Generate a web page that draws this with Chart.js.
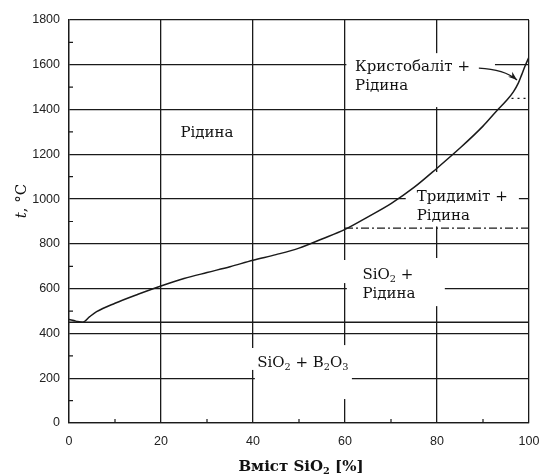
<!DOCTYPE html>
<html><head><meta charset="utf-8">
<script src="https://cdn.jsdelivr.net/npm/chart.js@4.4.1/dist/chart.umd.min.js"></script>
<style>html,body{margin:0;padding:0;background:#fff;}</style>
</head><body>
<canvas id="c" width="539" height="476"></canvas>
<script>
// ---- data ----
const xTicks = [0, 20, 40, 60, 80, 100];
const yTicks = [0, 200, 400, 600, 800, 1000, 1200, 1400, 1600, 1800];
const xMinor = [10, 30, 50, 70, 90];
const yMinor = [100, 300, 500, 700, 900, 1100, 1300, 1500, 1700];
const liquidusX = [0, 1.5, 3, 4.5, 6, 10, 15, 20, 25, 30, 35, 40, 45, 50, 55, 60, 65, 70, 75, 80, 85, 90, 93, 95.1, 96.6, 97.7, 98.4, 99.1, 100];
const liquidusT = [462, 455, 450, 475, 497, 535, 575, 612, 645, 672, 698, 727, 752, 781, 822, 865, 921, 980, 1052, 1138, 1228, 1326, 1395, 1440, 1479, 1519, 1555, 1592, 1635];
const eutecticX = [0, 100];
const eutecticT = [450, 450];
const tridymiteX = [60, 100];
const tridymiteT = [870, 870];
const cristobaliteX = [96.2, 100];
const cristobaliteT = [1450, 1450];
const regionText = [
  ['Рідина'],
  ['Кристобаліт +', 'Рідина'],
  ['Тридиміт +', 'Рідина'],
  ['SiO_2 +', 'Рідина'],
  ['SiO_2 + B_2O_3']
];
const xTitle = 'Вміст SiO_2 [%]';
const yTitleVar = 't';
const yTitleUnit = ', °C';

// ---- layout / style (not data) ----
const INK = '#1a1a1a';
const TEXT_INK = '#111';
const labelPos = [
  {x: 30, t: 1295, align: 'center'},
  {x: 62.2, t: 1589, align: 'left'},
  {x: 75.6, t: 1010, align: 'left'},
  {x: 63.8, t: 661, align: 'left'},
  {x: 40.9, t: 268, align: 'left'}
];
const masks = [
  {x1: 60.3, x2: 92.6, t1: 1652, t2: 1411},
  {x1: 73.2, x2: 97.8, t1: 1121, t2: 878},
  {x1: 60.4, x2: 81.7, t1: 737, t2: 522},
  {x1: 59.6, x2: 60.4, t1: 728, t2: 625},
  {x1: 40.4, x2: 61.5, t1: 344, t2: 186},
  {x1: 39.7, x2: 40.4, t1: 335, t2: 237},
  {x1: 59.6, x2: 60.4, t1: 348, t2: 107}
];
const SERIF = '"DejaVu Serif", serif';
const LABEL_SIZE = 15;
const TICK_FONT = {family: '"Liberation Sans", Arial, sans-serif', size: 12.5};

function toPts(xs, ys) { return xs.map((x, i) => ({x: x, y: ys[i]})); }

function parseRich(str) {
  const segs = [];
  const re = /_(\d)/g;
  let last = 0, m;
  while ((m = re.exec(str)) !== null) {
    if (m.index > last) segs.push({t: str.slice(last, m.index), sub: false});
    segs.push({t: m[1], sub: true});
    last = re.lastIndex;
  }
  if (last < str.length) segs.push({t: str.slice(last), sub: false});
  return segs;
}
function richWidth(ctx, segs, size, weight) {
  let w = 0;
  segs.forEach(s => {
    const fs = s.sub ? size * 0.65 : size;
    ctx.font = 'normal ' + (weight || 'normal') + ' ' + fs + 'px ' + SERIF;
    w += ctx.measureText(s.t).width;
  });
  return w;
}
function drawRich(ctx, str, x, y, align, size, weight) {
  const segs = parseRich(str);
  const w = richWidth(ctx, segs, size, weight);
  let cx = align === 'center' ? x - w / 2 : x;
  ctx.textBaseline = 'middle';
  ctx.textAlign = 'left';
  segs.forEach(s => {
    const fs = s.sub ? size * 0.65 : size;
    ctx.font = 'normal ' + (weight || 'normal') + ' ' + fs + 'px ' + SERIF;
    ctx.fillText(s.t, cx, s.sub ? y + size * 0.3 : y);
    cx += ctx.measureText(s.t).width;
  });
}

const decor = {
  id: 'decor',
  beforeDatasetsDraw(chart) {
    const {ctx, scales: {x, y}} = chart;
    ctx.save();
    ctx.fillStyle = '#fff';
    masks.forEach(m => {
      const px1 = x.getPixelForValue(m.x1), px2 = x.getPixelForValue(m.x2);
      const py1 = y.getPixelForValue(m.t1), py2 = y.getPixelForValue(m.t2);
      ctx.fillRect(px1, py1, px2 - px1, py2 - py1);
    });
    ctx.restore();
  },
  afterDatasetsDraw(chart) {
    const {ctx, scales: {x, y}, chartArea: a} = chart;
    ctx.save();
    ctx.strokeStyle = INK;
    ctx.lineWidth = 1.2;
    ctx.beginPath();
    xMinor.forEach(v => { const p = x.getPixelForValue(v); ctx.moveTo(p, a.bottom); ctx.lineTo(p, a.bottom - 4); });
    yMinor.forEach(v => { const p = y.getPixelForValue(v); ctx.moveTo(a.left, p); ctx.lineTo(a.left + 4, p); });
    ctx.stroke();

    ctx.fillStyle = TEXT_INK;
    regionText.forEach((lines, i) => {
      const pos = labelPos[i];
      const px = x.getPixelForValue(pos.x), py = y.getPixelForValue(pos.t);
      lines.forEach((ln, j) => drawRich(ctx, ln, px, py + j * 19, pos.align, LABEL_SIZE));
    });

    ctx.fillStyle = INK;
    const p0 = {x: x.getPixelForValue(89.1), y: y.getPixelForValue(1585)};
    const c = {x: x.getPixelForValue(94.6), y: y.getPixelForValue(1580)};
    const p1 = {x: x.getPixelForValue(97.4), y: y.getPixelForValue(1532)};
    ctx.lineWidth = 1.3;
    ctx.beginPath();
    ctx.moveTo(p0.x, p0.y);
    ctx.quadraticCurveTo(c.x, c.y, p1.x, p1.y);
    ctx.stroke();
    const ang = Math.atan2(p1.y - c.y, p1.x - c.x);
    const L = 9, W = 3.2;
    ctx.beginPath();
    ctx.moveTo(p1.x, p1.y);
    ctx.lineTo(p1.x - L * Math.cos(ang) + W * Math.sin(ang), p1.y - L * Math.sin(ang) - W * Math.cos(ang));
    ctx.lineTo(p1.x - L * 0.7 * Math.cos(ang), p1.y - L * 0.7 * Math.sin(ang));
    ctx.lineTo(p1.x - L * Math.cos(ang) - W * Math.sin(ang), p1.y - L * Math.sin(ang) + W * Math.cos(ang));
    ctx.closePath();
    ctx.fill();
    ctx.restore();
  },
  afterDraw(chart) {
    const {ctx, chartArea: a} = chart;
    ctx.save();
    ctx.fillStyle = TEXT_INK;
    drawRich(ctx, xTitle, (a.left + a.right) / 2 + 2, 467, 'center', 15, 'bold');
    ctx.translate(22, 201);
    ctx.rotate(-Math.PI / 2);
    ctx.textBaseline = 'middle';
    ctx.textAlign = 'left';
    ctx.font = 'italic normal 15px ' + SERIF;
    const w1 = ctx.measureText(yTitleVar).width;
    ctx.font = 'normal normal 15px ' + SERIF;
    const w2 = ctx.measureText(yTitleUnit).width;
    let sx = -(w1 + w2) / 2;
    ctx.font = 'italic normal 15px ' + SERIF;
    ctx.fillText(yTitleVar, sx, 0);
    ctx.font = 'normal normal 15px ' + SERIF;
    ctx.fillText(yTitleUnit, sx + w1, 0);
    ctx.restore();
  }
};

const lineDs = (data, extra) => Object.assign({
  data: data, borderColor: INK, borderWidth: 1.4, pointRadius: 0, fill: false, tension: 0
}, extra || {});

new Chart(document.getElementById('c'), {
  type: 'line',
  data: {
    datasets: [
      lineDs(toPts(liquidusX, liquidusT), {cubicInterpolationMode: 'monotone', borderWidth: 1.5}),
      lineDs(toPts(eutecticX, eutecticT), {borderWidth: 1.3}),
      lineDs(toPts(tridymiteX, tridymiteT), {borderDash: [8, 3, 2, 3], borderWidth: 1.2}),
      lineDs(toPts(cristobaliteX, cristobaliteT), {borderDash: [2, 4], borderWidth: 1.2})
    ]
  },
  options: {
    responsive: false,
    animation: false,
    devicePixelRatio: 1,
    layout: {padding: {top: 20, right: 0, left: 0, bottom: 0}},
    plugins: {legend: {display: false}, tooltip: {enabled: false}},
    scales: {
      x: {
        type: 'linear', min: 0, max: 100,
        afterBuildTicks: s => { s.ticks = xTicks.map(v => ({value: v})); },
        afterFit: s => { s.height = 53; s.paddingRight = 10; s.paddingLeft = 0; },
        ticks: {color: '#222', font: TICK_FONT, padding: 11, maxRotation: 0, callback: v => String(v)},
        grid: {color: INK, lineWidth: 1.3, drawTicks: false},
        border: {color: INK, width: 1.3}
      },
      y: {
        type: 'linear', min: 0, max: 1800,
        afterBuildTicks: s => { s.ticks = yTicks.map(v => ({value: v})); },
        afterFit: s => { s.width = 69; },
        ticks: {color: '#222', font: TICK_FONT, padding: 9, callback: v => String(v)},
        grid: {color: INK, lineWidth: 1.3, drawTicks: false},
        border: {color: INK, width: 1.3}
      }
    }
  },
  plugins: [decor]
});
</script>
</body></html>
